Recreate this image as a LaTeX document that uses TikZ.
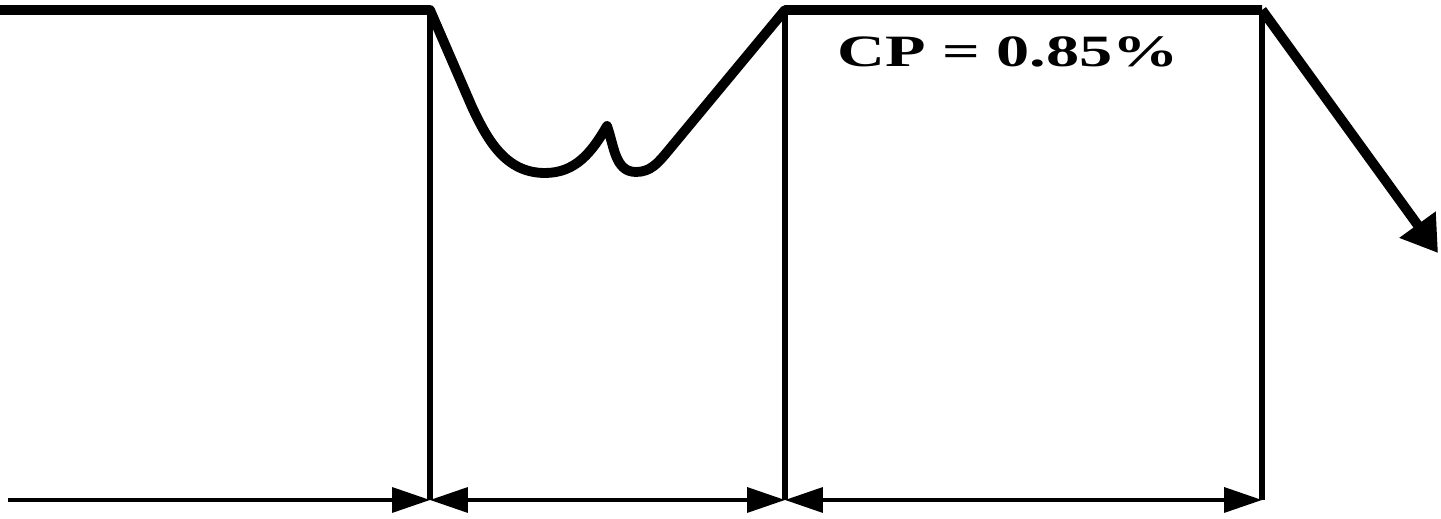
\documentclass[tikz,border=0pt]{standalone}
\usepackage{fontspec}
\setmainfont{Liberation Serif}
\usepackage{tikz}
\usetikzlibrary{arrows.meta}
\tikzset{
  levelline/.style={line width=5.6pt,line join=round},
  wallline/.style={line width=3.2pt},
  spanhead/.style={-{Triangle[length=0.76cm,width=0.5cm]},line width=2pt},
  spanarrow/.style={{Triangle[length=0.76cm,width=0.5cm]}-{Triangle[length=0.76cm,width=0.5cm]},
                    line width=2pt},
  droparrow/.style={-{Triangle[length=0.7cm,width=0.85cm]},line width=5.6pt}}

\begin{document}
\begin{tikzpicture}[x=0.02cm,y=0.02cm]
\useasboundingbox (0,0) rectangle (1441,519);

\coordinate (t0) at (0,509);
\coordinate (t1) at (430,509);
\coordinate (t2) at (785,509);
\coordinate (t3) at (1262,509);
\coordinate (tip) at (1438,266);
\coordinate (b0) at (8,19);
\coordinate (b1) at (430,19);
\coordinate (b2) at (785,19);
\coordinate (b3) at (1262,19);

% level with the dip
\draw[levelline] (t0) -- (t1) -- (472,412) to[out=-65,in=180] (545,346)
   to[out=0,in=-120] (607,393) to[out=-70,in=180] (636,347)
   to[out=0,in=230] (668,368) -- (t2) -- (t3);
\draw[droparrow] (t3) -- (tip);

\foreach \c in {1,2,3}{%
  \draw[wallline] (t\c) -- (b\c);
}

% spans
\draw[spanhead] (b0) -- (b1);
\draw[spanarrow] (b1) -- (b2);
\draw[spanarrow] (b2) -- (b3);

\node[font=\fontsize{25.5}{30}\selectfont\bfseries,xscale=1.48] (cp) at (1008,467) {CP = 0.85\%};
\end{tikzpicture}
\end{document}
